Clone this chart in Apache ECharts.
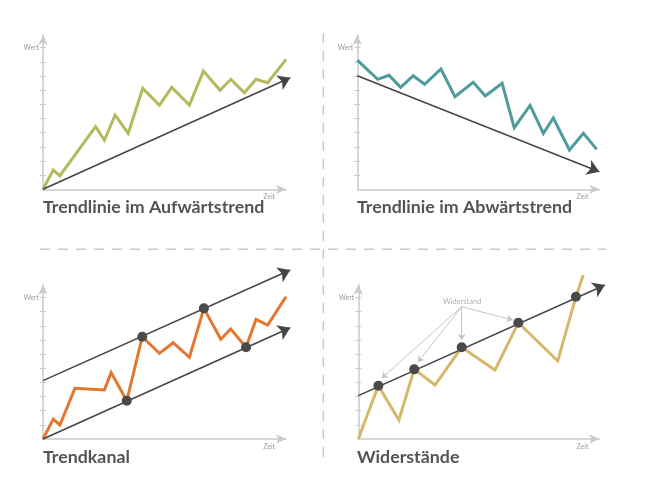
<!DOCTYPE html>
<html>
<head>
<meta charset="utf-8">
<script src="https://cdn.jsdelivr.net/npm/echarts@6/dist/echarts.min.js"></script>
<style>
  html, body { margin: 0; padding: 0; background: #fff; }
  #chart { width: 665px; height: 493px; }
</style>
</head>
<body>
<div id="chart"></div>
<script>
// ---- Data (x: Zeit, y: Wert) ----
const titles = ['Trendlinie im Aufwärtstrend', 'Trendlinie im Abwärtstrend', 'Trendkanal', 'Widerstände'];
const yTickValues = [1, 2, 3, 4, 5, 6, 7, 8, 9, 10];
const yLabelText = 'Wert';
const xLabelText = 'Zeit';

const aufwaerts = [[0,0],[4.3,1.36],[7.1,0.96],[22.1,4.42],[25.8,3.47],[30.3,5.25],[35.8,3.95],[41.9,7.13],[48.9,5.95],[54.1,7.2],[61.5,5.95],[67.4,8.35],[74.4,7.0],[78.9,7.77],[84.6,6.82],[89.5,7.77],[94.4,7.53],[102.1,9.18]];
const aufwaertsTrend = [[0,0],[103.9,7.88]];

const abwaerts = [[0,9.13],[8.6,7.77],[13.4,8.05],[18.3,7.2],[23.6,8.02],[28.4,7.42],[35.3,8.5],[41.2,6.54],[48.9,7.56],[54.0,6.59],[61.1,7.49],[66.2,4.35],[72.9,5.93],[78.5,3.95],[82.7,5.04],[89.5,2.78],[95.4,3.95],[101.0,2.82]];
const abwaertsTrend = [[0,8.02],[102.1,1.24]];

const kanal = [[0,0],[4.3,1.41],[7.1,0.99],[13.4,3.58],[25.8,3.46],[28.6,4.69],[35.2,2.7],[41.7,7.22],[48.9,6.05],[54.7,6.8],[61.5,5.77],[67.6,9.23],[74.7,7.04],[78.9,7.77],[85.3,6.48],[89.5,8.45],[94.4,8.05],[102.1,10.05]];
const kanalOben = [[0,4.12],[103.9,11.94]];
const kanalUnten = [[0,0],[103.9,7.86]];
const kanalPunkte = [[35.2,2.7],[41.7,7.22],[67.6,9.23],[85.3,6.48]];

const widerstand = [[0,0],[8.5,3.76],[17.2,1.34],[23.7,4.92],[32.5,3.81],[43.8,6.48],[57.9,4.87],[67.8,8.21],[84.5,5.51],[92.2,10.05],[95.3,11.58]];
const widerstandTrend = [[0,3.06],[104.5,10.88]];
const widerstandPunkte = [[8.5,3.76],[23.7,4.92],[43.8,6.48],[67.8,8.21],[92.2,10.05]];
const widerstandLabel = [[44.0,9.69]];
const widerstandLabelText = 'Widerstand';
const widerstandPfeile = [
  [[43.8,9.34],[9.9,4.29]],
  [[43.8,9.34],[25.2,5.42]],
  [[43.8,9.34],[43.8,7.0]],
  [[43.8,9.34],[65.4,8.41]]
];

// ---- Layout / style ----
const grids = [
  {left: 43, top: 35, width: 243, height: 154.3},
  {left: 357.3, top: 35, width: 242, height: 154.3},
  {left: 43, top: 284.7, width: 243, height: 154.3},
  {left: 358.3, top: 284.7, width: 241, height: 154.3}
];
const axisGray = '#c9c9c9';
const font = 'Lato, "Open Sans", sans-serif';

const xAxes = [], yAxes = [];
grids.forEach((g, i) => {
  xAxes.push({
    type: 'value', gridIndex: i, min: 0, max: 102.1,
    axisLine: {show: true, onZero: false, symbol: ['none', 'arrow'], symbolSize: [7, 10], lineStyle: {color: axisGray, width: 1.5}},
    axisTick: {show: false}, splitLine: {show: false},
    axisLabel: {customValues: [95], formatter: () => xLabelText, fontSize: 7, color: '#9a9a9a', margin: 4, fontFamily: font}
  });
  yAxes.push({
    type: 'value', gridIndex: i, min: 0, max: 10.9, position: 'left',
    axisLine: {show: true, symbol: ['none', 'arrow'], symbolSize: [7, 10], lineStyle: {color: axisGray, width: 1.5}},
    axisTick: {show: true, customValues: yTickValues, length: 3, lineStyle: {color: axisGray, width: 1}},
    splitLine: {show: false},
    axisLabel: {customValues: [10], formatter: () => yLabelText, fontSize: 7, color: '#9a9a9a', margin: 4, fontFamily: font}
  });
  yAxes.push({
    type: 'value', gridIndex: i, min: 0, max: 10.9, position: 'left', offset: 0,
    axisLine: {show: false},
    axisTick: {show: true, inside: true, customValues: yTickValues, length: 3, lineStyle: {color: axisGray, width: 1}},
    splitLine: {show: false}, axisLabel: {show: false}
  });
});

function dataLine(i, data, color) {
  return {type: 'line', xAxisIndex: i, yAxisIndex: i * 2, data: data, symbol: 'none', clip: false,
    lineStyle: {color: color, width: 3, join: 'miter'}, z: 3};
}
function arrowLine(i, coords, color, width, size, z) {
  return {type: 'lines', coordinateSystem: 'cartesian2d', xAxisIndex: i, yAxisIndex: i * 2, clip: false,
    symbol: ['none', 'arrow'], symbolSize: size,
    lineStyle: {color: color, width: width, opacity: 1, curveness: 0},
    data: [{coords: coords}], z: z || 4};
}
function dots(i, data) {
  return {type: 'scatter', xAxisIndex: i, yAxisIndex: i * 2, data: data, symbolSize: 10, clip: false,
    itemStyle: {color: '#4a4a4a', opacity: 1}, z: 6};
}

const series = [
  dataLine(0, aufwaerts, '#b4b95c'),
  arrowLine(0, aufwaertsTrend, '#444', 1.5, 12),
  dataLine(1, abwaerts, '#4f9c9c'),
  arrowLine(1, abwaertsTrend, '#444', 1.5, 12),
  dataLine(2, kanal, '#e2782f'),
  arrowLine(2, kanalOben, '#444', 1.5, 12),
  arrowLine(2, kanalUnten, '#444', 1.5, 12),
  dots(2, kanalPunkte),
  dataLine(3, widerstand, '#d5b96b'),
  arrowLine(3, widerstandTrend, '#444', 1.5, 12),
  dots(3, widerstandPunkte)
];
widerstandPfeile.forEach(c => series.push(arrowLine(3, c, '#c4c4c4', 1, 6, 2)));
series.push({type: 'scatter', xAxisIndex: 3, yAxisIndex: 6, data: widerstandLabel, symbolSize: 1, clip: false,
  itemStyle: {color: 'rgba(0,0,0,0)'},
  label: {show: true, position: 'inside', formatter: () => widerstandLabelText, fontSize: 7.5, color: '#9a9a9a', fontFamily: font}, z: 5});

const titlePos = [[43, 198], [357, 198], [43, 448], [357, 448]];
const option = {
  animation: false,
  backgroundColor: '#fff',
  title: titles.map((t, i) => ({
    text: t, left: titlePos[i][0], top: titlePos[i][1], padding: 0,
    textStyle: {fontSize: 17.8, fontWeight: 'bold', color: '#545454', fontFamily: font}
  })),
  grid: grids,
  xAxis: xAxes,
  yAxis: yAxes,
  series: series,
  graphic: [
    {type: 'line', shape: {x1: 40, y1: 249.3, x2: 606, y2: 249.3}, style: {stroke: '#c8c8c8', lineWidth: 1.5, lineDash: [10, 8]}},
    {type: 'line', shape: {x1: 323.3, y1: 33, x2: 323.3, y2: 464}, style: {stroke: '#c8c8c8', lineWidth: 1.5, lineDash: [10, 8]}}
  ]
};
const chart = echarts.init(document.getElementById('chart'), null, {renderer: 'canvas'});
chart.setOption(option);
</script>
</body>
</html>
